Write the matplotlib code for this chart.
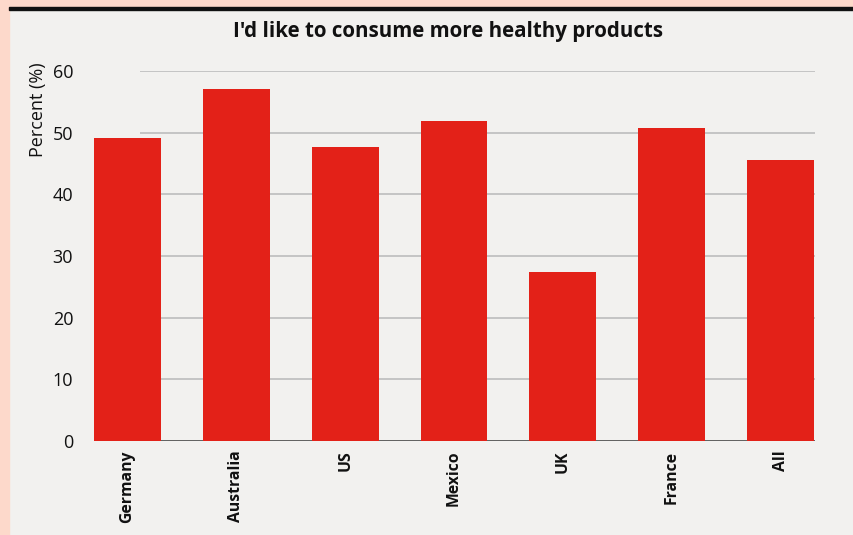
import matplotlib
matplotlib.use("Agg")
import matplotlib.pyplot as plt
from matplotlib.patches import Rectangle

categories = ["Germany", "Australia", "US", "Mexico", "UK", "France", "All"]
values = [49.1, 57.1, 47.7, 51.9, 27.4, 50.8, 45.6]
yticks = [0, 10, 20, 30, 40, 50, 60]
title = "I'd like to consume more healthy products"
ylabel = "Percent (%)"

plt.rcParams['font.family'] = ['Open Sans', 'DejaVu Sans']

W, H = 854, 535
fig = plt.figure(figsize=(W / 100, H / 100), dpi=100)
fig.patch.set_facecolor('#f2f1ef')

# decorative frame: salmon strip left and top, dark rule
fig.add_artist(Rectangle((0, 0), 9 / W, 1, transform=fig.transFigure, color='#fdd9cb', zorder=0))
fig.add_artist(Rectangle((0, 1 - 6.5 / H), 1, 6.5 / H, transform=fig.transFigure, color='#fdd9cb', zorder=0))
fig.add_artist(Rectangle((9 / W, 1 - 9.5 / H), 1, 3 / H, transform=fig.transFigure, color='#111111', zorder=1))

left, right = 94 / W, 815 / W
bottom, top = (H - 441) / H, (H - 71) / H
ax = fig.add_axes([left, bottom, right - left, top - bottom])
ax.set_facecolor('none')

x = list(range(len(categories)))
ax.bar(x, values, width=0.615, color='#e32118', zorder=3)

ax.set_xlim(-0.3075, 6.3165)
ax.set_ylim(0, 60)

gx0, gx1 = 0.115, 6.317
for t in yticks[1:]:
    ax.plot([gx0, gx1], [t, t], color='#bdbdbd', lw=1.2, zorder=1, solid_capstyle='butt')
ax.plot([gx0, gx1], [0, 0], color='#555555', lw=1.3, zorder=2, solid_capstyle='butt')

for s in ax.spines.values():
    s.set_visible(False)

ax.set_yticks(yticks)
ax.set_yticklabels([str(t) for t in yticks], fontsize=13, color='#111111')
ax.tick_params(axis='y', length=0, pad=15)
ax.set_xticks(x)
ax.set_xticklabels(categories, rotation=90, fontsize=11.3, fontweight='bold', color='#111111', va='top')
ax.tick_params(axis='x', length=0, pad=7)

fig.text(38 / W, (H - 110) / H, ylabel, rotation=90, ha='center', va='center', fontsize=13, color='#111111')
fig.text(448 / W, (H - 32) / H, title, ha='center', va='center', fontsize=14.8, fontweight='bold', color='#111111')

fig.savefig("out.png", dpi=100, facecolor=fig.get_facecolor())
